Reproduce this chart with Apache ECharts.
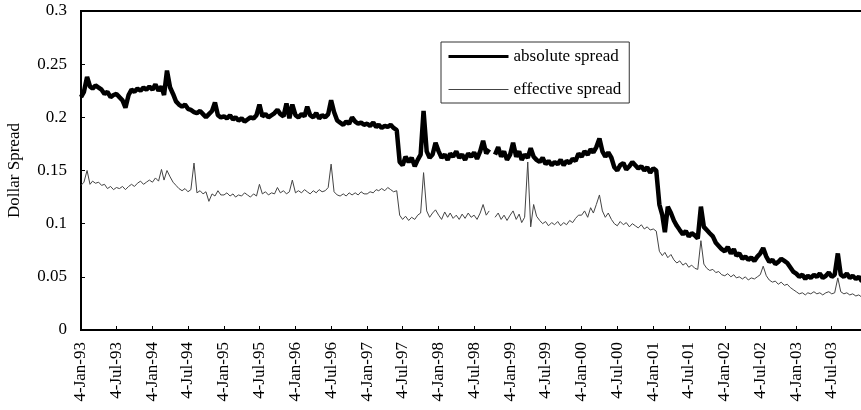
<!DOCTYPE html>
<html>
<head>
<meta charset="utf-8">
<script src="https://cdn.jsdelivr.net/npm/echarts@6/dist/echarts.min.js"></script>
<style>
html,body{margin:0;padding:0;background:#fff;}
#chart{width:861px;height:410px;}
</style>
</head>
<body>
<div id="chart"></div>
<script>
// Semi-monthly readings (4th and 19th of each month), Jan 1993 - Dec 2003; null = gap
const years = [1993,1994,1995,1996,1997,1998,1999,2000,2001,2002,2003];
const absoluteSpread = [
  /*1993*/ 0.219,0.224,0.238,0.229,0.227,0.230,0.228,0.226,0.222,0.224,0.219,0.221,0.222,0.219,0.216,0.209,0.221,0.226,0.224,0.227,0.225,0.228,0.226,0.229,
  /*1994*/ 0.226,0.231,0.225,0.229,0.221,0.244,0.228,0.222,0.215,0.212,0.210,0.212,0.208,0.207,0.205,0.204,0.206,0.203,0.200,0.203,0.206,0.214,0.202,0.200,
  /*1995*/ 0.201,0.199,0.202,0.198,0.200,0.197,0.199,0.196,0.198,0.200,0.199,0.202,0.212,0.201,0.203,0.200,0.202,0.204,0.207,0.203,0.201,0.213,0.199,0.212,
  /*1996*/ 0.202,0.200,0.203,0.201,0.210,0.202,0.200,0.204,0.199,0.202,0.200,0.203,0.216,0.205,0.197,0.195,0.193,0.196,0.194,0.200,0.196,0.194,0.195,0.193,
  /*1997*/ 0.194,0.192,0.195,0.191,0.193,0.190,0.192,0.191,0.193,0.190,0.188,0.158,0.155,0.163,0.158,0.162,0.154,0.160,0.165,0.206,0.168,0.162,0.165,0.176,
  /*1998*/ 0.168,0.162,0.165,0.160,0.166,0.163,0.168,0.162,0.165,0.160,0.166,0.163,0.167,0.161,0.168,0.178,0.166,0.170,null,0.165,0.172,0.163,0.168,0.160,
  /*1999*/ 0.165,0.176,0.163,0.168,0.160,0.165,0.162,0.171,0.163,0.160,0.158,0.162,0.156,0.159,0.155,0.158,0.156,0.160,0.155,0.159,0.157,0.161,0.159,0.166,
  /*2000*/ 0.163,0.168,0.165,0.170,0.167,0.172,0.180,0.168,0.163,0.167,0.162,0.153,0.150,0.155,0.157,0.151,0.154,0.158,0.155,0.152,0.154,0.150,0.153,0.148,
  /*2001*/ 0.152,0.150,0.118,0.108,0.092,0.116,0.110,0.103,0.098,0.094,0.090,0.093,0.088,0.091,0.089,0.086,0.116,0.097,0.094,0.091,0.088,0.082,0.079,0.076,
  /*2002*/ 0.074,0.078,0.072,0.076,0.070,0.072,0.067,0.069,0.066,0.068,0.065,0.069,0.072,0.077,0.069,0.064,0.066,0.062,0.064,0.067,0.065,0.063,0.059,0.055,
  /*2003*/ 0.053,0.050,0.052,0.048,0.051,0.049,0.052,0.050,0.053,0.049,0.051,0.054,0.050,0.052,0.072,0.052,0.050,0.053,0.049,0.051,0.048,0.050,0.046,0.047
];
const effectiveSpread = [
  /*1993*/ 0.136,0.139,0.150,0.137,0.140,0.138,0.139,0.136,0.137,0.133,0.135,0.132,0.134,0.133,0.135,0.132,0.135,0.137,0.135,0.138,0.140,0.137,0.139,0.141,
  /*1994*/ 0.139,0.143,0.140,0.151,0.141,0.150,0.144,0.139,0.136,0.133,0.131,0.133,0.130,0.132,0.157,0.129,0.131,0.128,0.130,0.121,0.128,0.126,0.131,0.127,
  /*1995*/ 0.127,0.129,0.126,0.128,0.125,0.127,0.126,0.129,0.127,0.125,0.128,0.126,0.137,0.128,0.130,0.127,0.129,0.128,0.134,0.129,0.131,0.128,0.130,0.141,
  /*1996*/ 0.129,0.131,0.129,0.132,0.130,0.128,0.131,0.129,0.132,0.130,0.131,0.134,0.156,0.130,0.127,0.126,0.128,0.126,0.129,0.127,0.129,0.127,0.130,0.128,
  /*1997*/ 0.128,0.130,0.129,0.132,0.131,0.133,0.131,0.134,0.132,0.130,0.131,0.108,0.104,0.107,0.103,0.106,0.104,0.108,0.110,0.148,0.112,0.106,0.110,0.113,
  /*1998*/ 0.108,0.104,0.111,0.106,0.110,0.105,0.108,0.104,0.109,0.105,0.110,0.106,0.108,0.104,0.110,0.118,0.108,0.112,null,0.106,0.110,0.104,0.108,0.103,
  /*1999*/ 0.108,0.112,0.104,0.109,0.101,0.106,0.158,0.097,0.118,0.107,0.103,0.100,0.102,0.098,0.101,0.099,0.102,0.098,0.101,0.099,0.103,0.101,0.105,0.108,
  /*2000*/ 0.108,0.112,0.106,0.115,0.110,0.118,0.127,0.112,0.106,0.110,0.104,0.100,0.098,0.102,0.099,0.101,0.097,0.100,0.098,0.096,0.099,0.095,0.097,0.094,
  /*2001*/ 0.095,0.093,0.074,0.070,0.073,0.068,0.071,0.066,0.063,0.065,0.061,0.063,0.059,0.061,0.058,0.057,0.084,0.062,0.058,0.056,0.057,0.054,0.055,0.052,
  /*2002*/ 0.051,0.053,0.050,0.052,0.049,0.050,0.048,0.050,0.047,0.049,0.048,0.050,0.052,0.060,0.051,0.047,0.045,0.046,0.043,0.045,0.042,0.043,0.040,0.038,
  /*2003*/ 0.036,0.034,0.035,0.033,0.035,0.034,0.036,0.034,0.035,0.033,0.035,0.036,0.034,0.035,0.049,0.036,0.034,0.035,0.033,0.034,0.032,0.033,0.031,0.032
];
const tickLabels = ['4-Jan-93','4-Jul-93','4-Jan-94','4-Jul-94','4-Jan-95','4-Jul-95','4-Jan-96','4-Jul-96',
  '4-Jan-97','4-Jul-97','4-Jan-98','4-Jul-98','4-Jan-99','4-Jul-99','4-Jan-00','4-Jul-00',
  '4-Jan-01','4-Jul-01','4-Jan-02','4-Jul-02','4-Jan-03','4-Jul-03'];
const seriesNames = ['absolute spread','effective spread'];

// x values are days since 4-Jan-93
const DAY = 86400000;
const origin = Date.UTC(1993, 0, 4);
function dayNum(y, m, d){ return Math.round((Date.UTC(y, m, d) - origin) / DAY); }
const obsDays = [];
years.forEach(function(y){ for (let m = 0; m < 12; m++) { obsDays.push(dayNum(y, m, 4)); obsDays.push(dayNum(y, m, 19)); } });
const monthIdx = {Jan:0, Jul:6};
const tickDays = tickLabels.map(function(s){ const p = s.split('-'); return dayNum(1900 + (+p[2] < 50 ? 100 : 0) + (+p[2]), monthIdx[p[1]], +p[0]); });
function pairs(vals){ return vals.map(function(v,i){ return [obsDays[i], v === null ? '-' : v]; }); }

const font = 'Liberation Serif';
const chart = echarts.init(document.getElementById('chart'), null, {renderer:'canvas'});
chart.setOption({
  animation: false,
  backgroundColor: '#fff',
  textStyle: {fontFamily: font, color: '#000'},
  grid: {left: 81, top: 11, right: -6, bottom: 80, outerBoundsMode: 'none', containLabel: false,
         show: true, borderColor: '#000', borderWidth: 2, backgroundColor: 'transparent'},
  legend: {
    orient: 'vertical', left: 441, top: 42, padding: [6, 8, 5, 6],
    itemWidth: 60, itemHeight: 14, itemGap: 16,
    borderColor: '#333', borderWidth: 1, backgroundColor: '#fff',
    itemStyle: {color: 'rgba(0,0,0,0)', borderColor: 'rgba(0,0,0,0)', borderWidth: 0},
    textStyle: {fontFamily: font, fontSize: 17, color: '#000'},
    data: [
      {name: seriesNames[0], lineStyle: {width: 3, color: '#000'}},
      {name: seriesNames[1], lineStyle: {width: 1, color: '#444'}}
    ]
  },
  xAxis: {
    type: 'value',
    min: 0,
    max: dayNum(2003, 11, 31),
    splitLine: {show: false},
    axisLine: {lineStyle: {color: '#000', width: 2}},
    axisTick: {inside: true, length: 4, lineStyle: {color: '#000', width: 1}, customValues: tickDays},
    axisLabel: {
      customValues: tickDays, rotate: 90, margin: 12, fontSize: 17, fontFamily: font, color: '#000',
      formatter: function(v){ const i = tickDays.indexOf(v); return i >= 0 ? tickLabels[i] : ''; }
    }
  },
  yAxis: {
    type: 'value', min: 0, max: 0.3, interval: 0.05,
    name: 'Dollar Spread', nameLocation: 'middle', nameGap: 58,
    nameTextStyle: {fontFamily: font, fontSize: 17, color: '#000'},
    splitLine: {show: false},
    axisLine: {show: true, lineStyle: {color: '#000', width: 2}},
    axisTick: {show: true, inside: true, length: 4, lineStyle: {color: '#000'}},
    axisLabel: {fontSize: 17, fontFamily: font, color: '#000', margin: 14,
      formatter: function(v){ return String(Math.round(v * 100) / 100); }}
  },
  series: [
    {name: seriesNames[0], type: 'line', data: pairs(absoluteSpread), symbol: 'none', showSymbol: false,
     lineStyle: {color: '#000', width: 4.5}, itemStyle: {color: '#000'}, z: 3},
    {name: seriesNames[1], type: 'line', data: pairs(effectiveSpread), symbol: 'none', showSymbol: false,
     lineStyle: {color: '#444', width: 1}, itemStyle: {color: '#444'}, z: 2}
  ]
});
</script>
</body>
</html>
